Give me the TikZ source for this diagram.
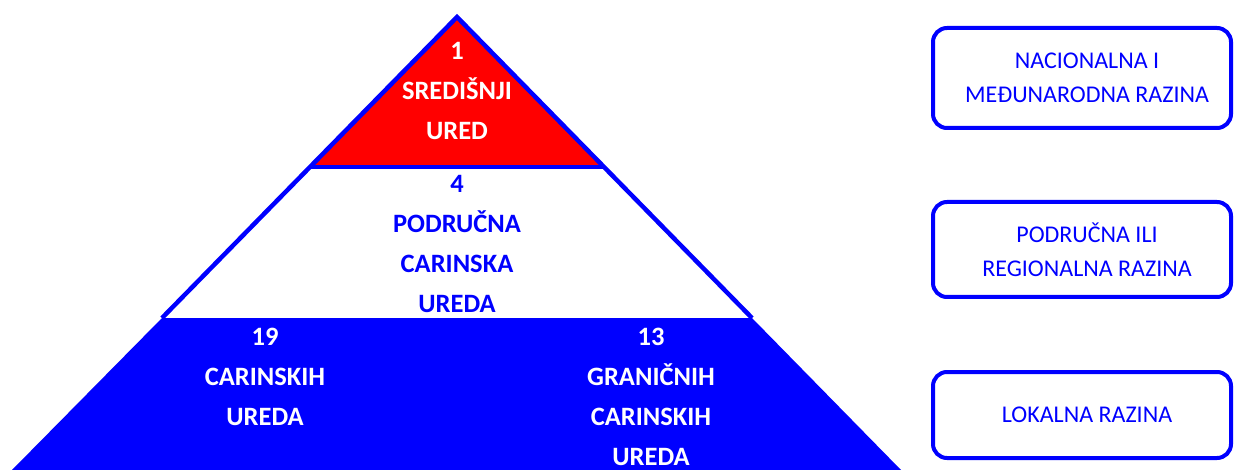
\documentclass[tikz,border=0pt]{standalone}
\usepackage{fontspec}
\setmainfont{Carlito}
\usetikzlibrary{positioning}

\definecolor{pblue}{RGB}{0,0,255}
\definecolor{pred}{RGB}{255,0,0}

\tikzset{
  lvltext/.style={align=center, inner sep=0pt, font=\bfseries\fontsize{26.5}{40}\selectfont},
  lvlbox/.style={draw=pblue, line width=4pt, rounded corners=14pt, minimum width=298pt},
  boxtext/.style={text=pblue, align=center, inner sep=0pt, font=\fontsize{24}{34}\selectfont}
}

\begin{document}
\begin{tikzpicture}[x=1pt,y=-1pt]
\useasboundingbox (0,0) rectangle (1234,470);
% corners of the pyramid
\coordinate (apex) at (457,17);
\coordinate (redL) at (309,167);
\coordinate (redR) at (605,167);
\coordinate (midL) at (162,318);
\coordinate (midR) at (752,318);
\coordinate (botL) at (12,470);
\coordinate (botR) at (901,470);
% levels
\fill [pred] (apex) -- (redR) -- (redL) -- cycle;
\fill [pblue] (midL) -- (midR) -- (botR) -- (botL) -- cycle;
\draw [pblue, line width=4.5pt] (midL) -- (apex) -- (midR);
\draw [pblue, line width=4.5pt] (redL) -- (redR);
% texts
\node [lvltext, text=white] (central) at (457,91) {1\\SREDIŠNJI\\URED};
\node [lvltext, text=pblue] (regional) at (457,244) {4\\PODRUČNA\\CARINSKA\\UREDA};
\node [lvltext, text=white] (customs) at (265,377) {19\\CARINSKIH\\UREDA};
\node [lvltext, text=white] (border) at (651,397) {13\\GRANIČNIH\\CARINSKIH\\UREDA};
% level boxes
\node [lvlbox, minimum height=100pt] (national) at (1082,78) {};
\node [lvlbox, minimum height=95pt] (region) at (1082,249.5) {};
\node [lvlbox, minimum height=86pt] (local) at (1082,415) {};
\node [boxtext] (nationaltxt) at ([xshift=5pt]national.center) {NACIONALNA I\\MEĐUNARODNA RAZINA};
\node [boxtext] (regiontxt) at ([xshift=5pt]region.center) {PODRUČNA ILI\\REGIONALNA RAZINA};
\node [boxtext] (localtxt) at ([xshift=5pt]local.center) {LOKALNA RAZINA};
\end{tikzpicture}
\end{document}
